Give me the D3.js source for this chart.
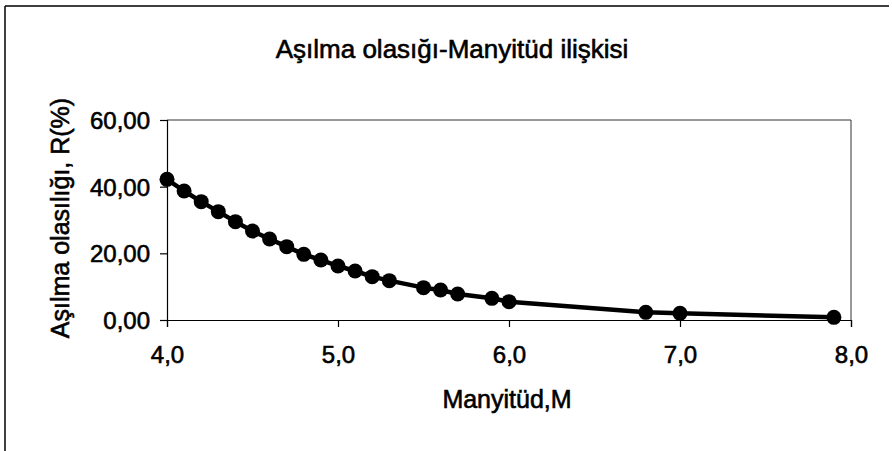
<!DOCTYPE html>
<html>
<head>
<meta charset="utf-8">
<script src="https://cdn.jsdelivr.net/npm/d3@7/dist/d3.min.js"></script>
<style>
  html, body { margin: 0; padding: 0; background: #fff; }
  svg { display: block; font-family: "Liberation Sans", Arial, sans-serif; }
</style>
</head>
<body>
<svg id="chart" width="892" height="451"></svg>
<script>
const magnitudes = [4.0, 4.1, 4.2, 4.3, 4.4, 4.5, 4.6, 4.7, 4.8, 4.9, 5.0, 5.1, 5.2, 5.3, 5.5, 5.6, 5.7, 5.9, 6.0, 6.8, 7.0, 7.9];
const probabilities = [42.2, 38.7, 35.5, 32.5, 29.5, 26.7, 24.3, 22.0, 19.7, 18.0, 16.2, 14.7, 13.0, 11.8, 9.7, 9.0, 7.8, 6.5, 5.5, 2.3, 2.0, 0.8];
const xTicks = [4.0, 5.0, 6.0, 7.0, 8.0];
const yTicks = [0, 20, 40, 60];
const chartTitle = "Aşılma olasığı-Manyitüd ilişkisi";
const xTitle = "Manyitüd,M";
const yTitle = "Aşılma olasılığı, R(%)";

const svg = d3.select("#chart");
const pLeft = 167, pRight = 851, pTop = 120, pBottom = 320;

const x = d3.scaleLinear().domain([4, 8]).range([pLeft, pRight]);
const y = d3.scaleLinear().domain([0, 60]).range([pBottom, pTop]);

// outer frame (left and top edges visible)
svg.append("line").attr("x1", 5).attr("y1", 6).attr("x2", 889).attr("y2", 6)
  .attr("stroke", "#000").attr("stroke-width", 1.5);
svg.append("line").attr("x1", 5).attr("y1", 6).attr("x2", 5).attr("y2", 451)
  .attr("stroke", "#000").attr("stroke-width", 1.5);

// plot area box
svg.append("line").attr("x1", pLeft).attr("y1", pTop).attr("x2", pRight).attr("y2", pTop)
  .attr("stroke", "#333").attr("stroke-width", 1);
svg.append("line").attr("x1", pRight).attr("y1", pTop).attr("x2", pRight).attr("y2", pBottom)
  .attr("stroke", "#333").attr("stroke-width", 1);

const fmtX = v => d3.format(".1f")(v).replace(".", ",");
const fmtY = v => d3.format(".2f")(v).replace(".", ",");

const xAxis = svg.append("g").attr("transform", `translate(0,${pBottom})`)
  .call(d3.axisBottom(x).tickValues(xTicks).tickFormat(fmtX).tickSize(7).tickPadding(19));
const yAxis = svg.append("g").attr("transform", `translate(${pLeft},0)`)
  .call(d3.axisLeft(y).tickValues(yTicks).tickFormat(fmtY).tickSize(7).tickPadding(10));

[xAxis, yAxis].forEach(g => {
  g.select(".domain").attr("stroke", "#000").attr("stroke-width", 1.2);
  g.selectAll(".tick line").attr("stroke", "#000").attr("stroke-width", 1.2);
  g.selectAll(".tick text").attr("fill", "#000")
    .attr("stroke", "#000").attr("stroke-width", 0.6)
    .style("font-family", '"Liberation Sans", Arial, sans-serif')
    .style("font-size", "24px");
});
yAxis.selectAll(".tick text").attr("dy", "0.36em");
xAxis.selectAll(".tick text").attr("dy", "0.72em");

const data = magnitudes.map((m, i) => ({ m, r: probabilities[i] }));

svg.append("path").datum(data)
  .attr("fill", "none").attr("stroke", "#000").attr("stroke-width", 4.5)
  .attr("stroke-linejoin", "round")
  .attr("d", d3.line().x(d => x(d.m)).y(d => y(d.r)));

svg.append("g").selectAll("circle").data(data).join("circle")
  .attr("cx", d => x(d.m)).attr("cy", d => y(d.r)).attr("r", 7.5)
  .attr("fill", "#000");

// titles
const txt = (sel) => sel.attr("fill", "#000").attr("stroke", "#000").attr("stroke-width", 0.6)
  .attr("text-anchor", "middle");
svg.append("text").attr("x", 452).attr("y", 58)
  .style("font-size", "26px").call(txt).text(chartTitle);
svg.append("text").attr("x", 507).attr("y", 408)
  .style("font-size", "25px").call(txt).text(xTitle);
svg.append("text").attr("transform", "translate(69,218) rotate(-90)")
  .style("font-size", "25px").call(txt).text(yTitle);
</script>
</body>
</html>
